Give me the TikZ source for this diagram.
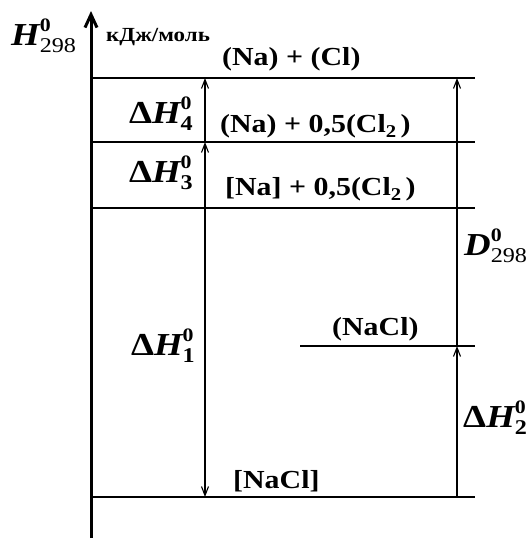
\documentclass[tikz,border=0pt]{standalone}
\usepackage{fontspec}
\setmainfont[FakeStretch=1.15]{Liberation Serif}
\usetikzlibrary{arrows.meta}

% symbol with a bold 0 on top and an index below it
\newcommand{\enth}[2]{#1\rlap{\raisebox{14pt}{\fontsize{19}{19}\selectfont\bfseries\upshape 0}}%
  \raisebox{-7pt}{\fontsize{21}{21}\selectfont\upshape #2}}
\newcommand{\chemsub}[1]{\raisebox{-5pt}{\fontsize{18}{18}\selectfont #1}}

\begin{document}
\begin{tikzpicture}[x=1pt, y=-1pt,
    axisline/.style={line width=3pt, -{Straight Barb[length=13pt, width=12pt]}},
    level/.style={line width=1.6pt},
    upline/.style={line width=1.1pt, -{Straight Barb[length=9pt, width=7pt]}},
    chem/.style={font=\fontsize{26}{28}\selectfont\bfseries, inner sep=0pt, anchor=base west},
    sym/.style={font=\fontsize{32}{34}\selectfont\bfseries, inner sep=0pt, anchor=base west},
  ]
  \useasboundingbox (0,0) rectangle (527,539);

  % =========================================================
  %  axis and levels
  % =========================================================
  \coordinate (axbot) at (91,538);
  \coordinate (axtop) at (91,11);
  \draw[axisline] (axbot) -- (axtop);

  \foreach \y in {78,142,208,497}{
    \draw[level] (91,\y) -- (475,\y);
  }
  \draw[level] (300,346) -- (475,346);

  % =========================================================
  %  steps of the cycle
  % =========================================================
  \coordinate (a1) at (205,78);
  \coordinate (a2) at (205,142);
  \coordinate (a3) at (205,208);
  \coordinate (a5) at (205,497);
  \coordinate (b1) at (457,78);
  \coordinate (b4) at (457,346);
  \coordinate (b5) at (457,497);

  \draw[upline] (a2) -- (a1);
  \draw[upline] (a3) -- (a2);
  \draw[upline] (a3) -- (a5);
  \draw[upline] (b4) -- (b1);
  \draw[upline] (b5) -- (b4);

  % =========================================================
  %  labels
  % =========================================================
  \node[sym] (hax) at (11,45) {\enth{\itshape H}{\mdseries 298}};
  \node[font=\fontsize{20}{22}\selectfont\bfseries, inner sep=0pt, anchor=base west]
    (unit) at (106,41) {кДж/моль};

  \node[chem] (s1) at (222,65) {(Na) + (Cl)};
  \node[chem] (s2) at (220,132) {(Na) + 0,5(Cl\chemsub{2}\,)};
  \node[chem] (s3) at (225,195) {[Na] + 0,5(Cl\chemsub{2}\,)};
  \node[chem] (s4) at (332,335) {(NaCl)};
  \node[chem] (s5) at (233,488) {[NaCl]};

  \node[sym, anchor=base east] (dh4) at (193,123) {\enth{Δ\itshape H}{\bfseries 4}};
  \node[sym, anchor=base east] (dh3) at (193,182) {\enth{Δ\itshape H}{\bfseries 3}};
  \node[sym, anchor=base east] (dh1) at (195,355) {\enth{Δ\itshape H}{\bfseries 1}};
  \node[sym] (dh2) at (463,427) {\enth{Δ\itshape H}{\bfseries 2}};
  \node[sym] (d298) at (464,255) {\enth{\itshape D}{\mdseries 298}};

\end{tikzpicture}
\end{document}
